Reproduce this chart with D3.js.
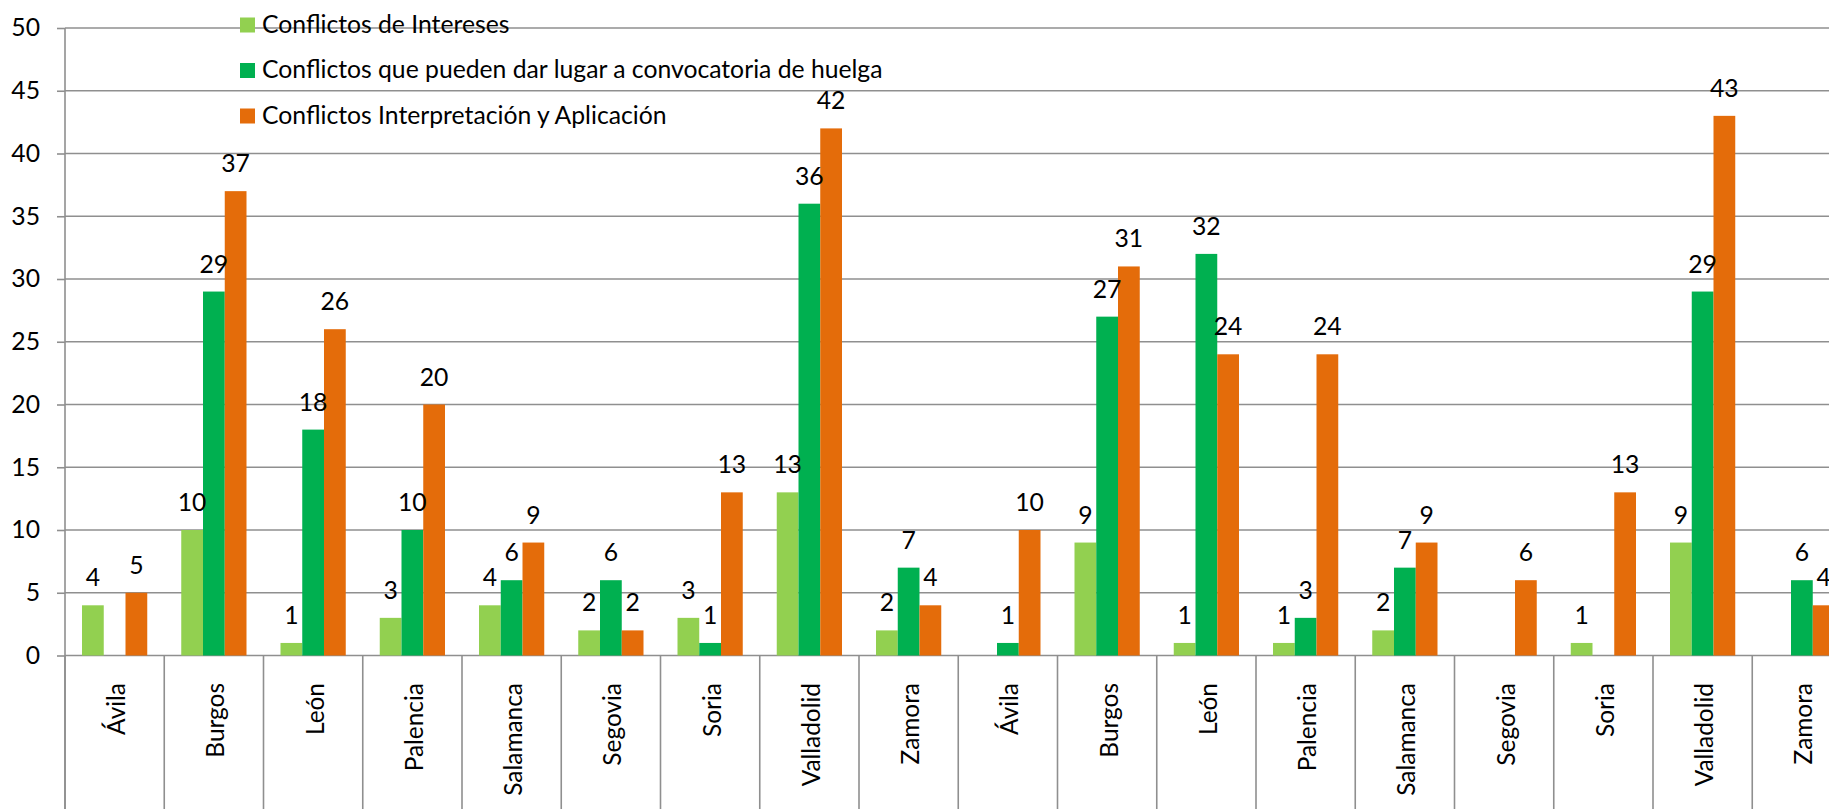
<!DOCTYPE html>
<html>
<head>
<meta charset="utf-8">
<script src="https://cdn.jsdelivr.net/npm/d3@7"></script>
<style>
  html, body { margin: 0; padding: 0; background: #fff; overflow: hidden; }
  svg { display: block; }
  text { font-family: Lato, "Open Sans", sans-serif; fill: #000; }
</style>
</head>
<body>
<svg id="chart" width="1829" height="809"></svg>
<script>
// ---- data ----
const categories = ["Ávila","Burgos","León","Palencia","Salamanca","Segovia","Soria","Valladolid","Zamora",
                    "Ávila","Burgos","León","Palencia","Salamanca","Segovia","Soria","Valladolid","Zamora"];
const seriesNames = ["Conflictos de Intereses",
                     "Conflictos que pueden dar lugar a convocatoria de huelga",
                     "Conflictos Interpretación y Aplicación"];
const intereses   = [4, 10, 1, 3, 4, 2, 3, 13, 2,  null, 9, 1, 1, 2, null, 1, 9, null];
const huelga      = [null, 29, 18, 10, 6, 6, 1, 36, 7,  1, 27, 32, 3, 7, null, null, 29, 6];
const interpret   = [5, 37, 26, 20, 9, 2, 13, 42, 4,  10, 31, 24, 24, 9, 6, 13, 43, 4];
const yTicks = [0, 5, 10, 15, 20, 25, 30, 35, 40, 45, 50];
const colors = ["#92D050", "#00B050", "#E46C0A"];

const seriesValues = [intereses, huelga, interpret];

// ---- layout ----
const W = 1829, H = 809;
const left = 65, bandW = 99.25;
const yTop = 28, yBottom = 655.5;

const svg = d3.select("#chart");

// font sizing: match text widths to reference
function measure(txt, size) {
  const p = svg.append("text").attr("font-size", size).text(txt);
  const w = p.node().getComputedTextLength();
  p.remove();
  return w;
}
const fs = 24 * 621 / measure(seriesNames[1], 24);
const fsCat = 24 * 105 / measure("Valladolid", 24) * 0.5 + 24 * 87 / measure("Palencia", 24) * 0.5;

const idx = d3.range(categories.length);
const x = d3.scaleBand().domain(idx).range([left, left + bandW * categories.length]).padding(0);
const x1 = d3.scaleBand().domain(d3.range(seriesNames.length))
  .range([x.bandwidth() * 0.1713, x.bandwidth() * 0.8287]).padding(0);
const y = d3.scaleLinear().domain([0, 50]).range([yBottom, yTop]);

const gridColor = "#8f8f8f";

// gridlines
svg.append("g").selectAll("line").data(yTicks).join("line")
  .attr("x1", left).attr("x2", W)
  .attr("y1", d => y(d)).attr("y2", d => y(d))
  .attr("stroke", gridColor).attr("stroke-width", 1.6);

// y axis
const yAxis = d3.axisLeft(y).tickValues(yTicks).tickSize(8).tickPadding(17);
const gy = svg.append("g").attr("transform", `translate(${left},0)`).call(yAxis);
gy.select(".domain").remove();
gy.selectAll(".tick line").attr("stroke", gridColor).attr("stroke-width", 1.6);
gy.selectAll(".tick text").attr("font-size", fs).attr("font-family", "Lato, sans-serif").attr("fill", "#000");
svg.append("line").attr("x1", left).attr("x2", left).attr("y1", yTop).attr("y2", H)
  .attr("stroke", gridColor).attr("stroke-width", 1.6);

// category separators
const seps = d3.range(categories.length + 1);
svg.append("g").selectAll("line").data(seps).join("line")
  .attr("x1", d => left + d * bandW).attr("x2", d => left + d * bandW)
  .attr("y1", yBottom).attr("y2", H)
  .attr("stroke", gridColor).attr("stroke-width", 1.6);

// category labels
svg.append("g").selectAll("text").data(idx).join("text")
  .attr("transform", d => `translate(${x(d) + x.bandwidth() / 2},683) rotate(-90)`)
  .attr("text-anchor", "end")
  .attr("dy", 10.5)
  .attr("font-size", fsCat)
  .text(d => categories[d]);

// bars
const barData = [];
seriesValues.forEach((vals, s) => vals.forEach((v, i) => { if (v !== null) barData.push({s, i, v}); }));

svg.append("g").selectAll("rect").data(barData).join("rect")
  .attr("x", d => x(d.i) + x1(d.s))
  .attr("width", x1.bandwidth())
  .attr("y", d => y(d.v))
  .attr("height", d => y(0) - y(d.v))
  .attr("fill", d => colors[d.s]);

// value labels
svg.append("g").selectAll("text").data(barData).join("text")
  .attr("x", d => x(d.i) + x1(d.s) + x1.bandwidth() / 2)
  .attr("y", d => y(d.v) - 19)
  .attr("text-anchor", "middle")
  .attr("font-size", fs)
  .text(d => d.v);

// legend
const legendRows = [25, 70.5, 116];
const lg = svg.append("g");
seriesNames.forEach((name, s) => {
  lg.append("rect").attr("x", 240).attr("y", legendRows[s] - 7.5).attr("width", 15).attr("height", 15)
    .attr("fill", colors[s]);
  lg.append("text").attr("x", 262).attr("y", legendRows[s] + 7.5).attr("font-size", fs).text(name);
});
</script>
</body>
</html>
